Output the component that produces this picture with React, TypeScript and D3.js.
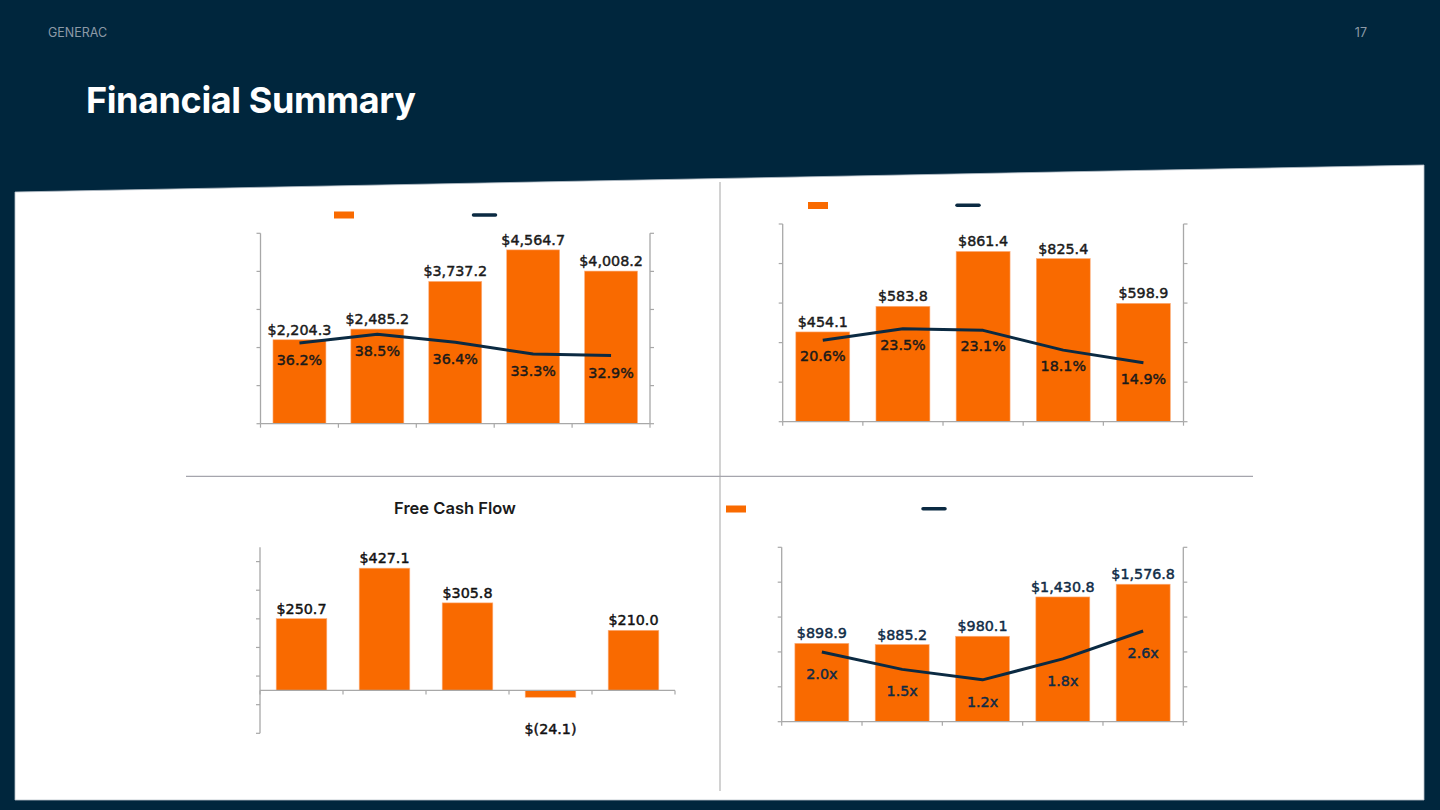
import React from "react";
import * as d3 from "d3";

const years = ["2019", "2020", "2021", "2022", "2023"];
const netSales = [2204.3, 2485.2, 3737.2, 4564.7, 4008.2];
const grossMargin = [36.2, 38.5, 36.4, 33.3, 32.9];
const adjEbitda = [454.1, 583.8, 861.4, 825.4, 598.9];
const ebitdaMargin = [20.6, 23.5, 23.1, 18.1, 14.9];
const freeCashFlow = [250.7, 427.1, 305.8, -24.1, 210.0];
const netDebt = [898.9, 885.2, 980.1, 1430.8, 1576.8];
const leverage = [2.0, 1.5, 1.2, 1.8, 2.6];

const salesTicks = [0, 1000, 2000, 3000, 4000, 5000];
const grossMarginTicks = [15, 25, 35, 45, 55, 65];
const ebitdaTicks = [0, 200, 400, 600, 800, 1000];
const ebitdaMarginTicks = [0, 10, 20, 30, 40, 50];
const fcfTicks = [-150, -50, 50, 150, 250, 350, 450];
const netDebtTicks = [0, 400, 800, 1200, 1600, 2000];
const leverageTicks = [0, 1, 2, 3, 4, 5];

const NAVY_BG = "#00263d";
const ORANGE = "#f96a00";
const LINE_NAVY = "#0b2a42";
const AXIS = "#a8a8a8";
const LABEL_FONT = "'DejaVu Sans', sans-serif";

const num = d3.format(",.1f");
const money = (v: number) => (v < 0 ? `$(${num(Math.abs(v))})` : `$${num(v)}`);
const pct = (v: number) => `${d3.format(".1f")(v)}%`;
const times = (v: number) => `${d3.format(".1f")(v)}x`;

type ChartProps = {
  left: number; right: number; top: number; bottom: number;
  values: number[]; yDomain: [number, number]; yTicks: number[];
  line?: number[]; lineDomain?: [number, number]; lineTicks?: number[];
  lineFmt?: (v: number) => string; lineDy?: number;
  pad: number; valueColor: string; lineLabelColor?: string;
  legend?: { rx: number; ry: number; lx: number; ly: number };
  negDy?: number;
};

function Label(props: { x: number; y: number; color: string; central?: boolean; children: React.ReactNode }) {
  return (
    <text x={props.x} y={props.y} textAnchor="middle" dominantBaseline={props.central ? "central" : undefined}
      fontFamily={LABEL_FONT} fontSize={14.3} fill={props.color} stroke={props.color} strokeWidth={0.45}>
      {props.children}
    </text>
  );
}

function BarLineChart(p: ChartProps) {
  const x = d3.scaleBand<string>().domain(years).range([p.left, p.right])
    .paddingInner(p.pad).paddingOuter(p.pad / 2);
  const y = d3.scaleLinear().domain(p.yDomain).range([p.bottom, p.top]);
  const bw = x.bandwidth();
  const step = x.step();
  const zeroY = y(0);
  const y2 = p.lineDomain ? d3.scaleLinear().domain(p.lineDomain).range([p.bottom, p.top]) : null;
  const cx = (i: number) => (x(years[i]) as number) + bw / 2;
  const lineGen = d3.line<number>().x((_, i) => cx(i)).y((d) => (y2 ? y2(d) : 0));
  const boundaries = d3.range(years.length + 1).map((i) => p.left + i * step);
  return (
    <g>
      {p.legend && (
        <g>
          <rect x={p.legend.rx} y={p.legend.ry} width={20} height={7} fill={ORANGE} />
          <line x1={p.legend.lx} x2={p.legend.lx + 22} y1={p.legend.ly} y2={p.legend.ly}
            stroke={LINE_NAVY} strokeWidth={3.5} strokeLinecap="round" />
        </g>
      )}
      <line x1={p.left} x2={p.left} y1={y(p.yDomain[1])} y2={y(p.yDomain[0])} stroke={AXIS} strokeWidth={1.3} />
      {p.yTicks.map((t) => (
        <line key={"lt" + t} x1={p.left - 4} x2={p.left} y1={y(t)} y2={y(t)} stroke={AXIS} strokeWidth={1.2} />
      ))}
      {y2 && p.lineTicks && (
        <g>
          <line x1={p.right} x2={p.right} y1={p.top} y2={p.bottom} stroke={AXIS} strokeWidth={1.3} />
          {p.lineTicks.map((t) => (
            <line key={"rt" + t} x1={p.right} x2={p.right + 4} y1={y2(t)} y2={y2(t)} stroke={AXIS} strokeWidth={1.2} />
          ))}
        </g>
      )}
      {p.values.map((v, i) => (
        <rect key={"b" + i} x={x(years[i])} y={Math.min(y(v), zeroY)} width={bw}
          height={Math.abs(y(v) - zeroY)} fill={ORANGE} stroke="#fcb283" strokeWidth={0.6} />
      ))}
      <line x1={p.left} x2={p.right} y1={zeroY} y2={zeroY} stroke={AXIS} strokeWidth={1.3} />
      {boundaries.map((bx, i) => (
        <line key={"bt" + i} x1={bx} x2={bx} y1={zeroY} y2={zeroY + 4} stroke={AXIS} strokeWidth={1.2} />
      ))}
      {p.values.map((v, i) => (
        <Label key={"vl" + i} x={cx(i)} y={v >= 0 ? y(v) - 5 : y(v) + (p.negDy ?? 16)} color={p.valueColor}>
          {money(v)}
        </Label>
      ))}
      {p.line && y2 && (
        <g>
          <path d={lineGen(p.line) || ""} fill="none" stroke={LINE_NAVY} strokeWidth={3} strokeLinejoin="round" />
          {p.line.map((v, i) => (
            <Label key={"ll" + i} x={cx(i)} y={y2(v) + (p.lineDy ?? 17)} central color={p.lineLabelColor || "#1a1a1a"}>
              {p.lineFmt ? p.lineFmt(v) : v}
            </Label>
          ))}
        </g>
      )}
    </g>
  );
}

export default function App() {
  return (
    <div style={{ position: "absolute", left: 0, top: 0, width: 1440, height: 810 }}>
      <svg width={1440} height={810} viewBox="0 0 1440 810" style={{ display: "block" }}>
        <rect x={0} y={0} width={1440} height={810} fill={NAVY_BG} />
        <polygon points="15,192 1424,165 1424,800 15,800" fill="#ffffff" stroke="#b9c2ca" strokeWidth={0.8} />
        <text x={48} y={36.5} fontFamily="Inter, sans-serif" fontSize={12.5} fill="#8d9aa7">GENERAC</text>
        <text x={1367} y={36.5} textAnchor="end" fontFamily="Inter, sans-serif" fontSize={12.5} fill="#8d9aa7">17</text>
        <text x={86} y={113} fontFamily="Inter, sans-serif" fontWeight={700} fontSize={36} fill="#ffffff" letterSpacing={-0.4}>
          Financial Summary
        </text>
        <line x1={720} x2={720} y1={182} y2={791} stroke="#d2d2d2" strokeWidth={2} />
        <line x1={186} x2={1253} y1={476.3} y2={476.3} stroke="#a5a5ad" strokeWidth={1.2} />

        <BarLineChart left={260.5} right={650} top={233.3} bottom={423.7}
          values={netSales} yDomain={[0, 5000]} yTicks={salesTicks}
          line={grossMargin} lineDomain={[15, 65]} lineTicks={grossMarginTicks} lineFmt={pct} lineDy={17}
          pad={0.32} valueColor="#1a1a1a"
          legend={{ rx: 334, ry: 211.5, lx: 473.5, ly: 215 }} />

        <BarLineChart left={782.7} right={1183.5} top={224} bottom={421.7}
          values={adjEbitda} yDomain={[0, 1000]} yTicks={ebitdaTicks}
          line={ebitdaMargin} lineDomain={[0, 50]} lineTicks={ebitdaMarginTicks} lineFmt={pct} lineDy={16}
          pad={0.327} valueColor="#1a1a1a"
          legend={{ rx: 808, ry: 202, lx: 957, ly: 205.3 }} />

        <text x={455} y={514} textAnchor="middle" fontFamily="Inter, sans-serif" fontWeight={600} fontSize={16.5} fill="#1a1a1a">
          Free Cash Flow
        </text>
        <BarLineChart left={260} right={675} top={547.3} bottom={733.3}
          values={freeCashFlow} yDomain={[-150, 500]} yTicks={fcfTicks}
          pad={0.39} valueColor="#111111" negDy={37} />

        <BarLineChart left={781.7} right={1183.3} top={547.3} bottom={721.7}
          values={netDebt} yDomain={[0, 2000]} yTicks={netDebtTicks}
          line={leverage} lineDomain={[0, 5]} lineTicks={leverageTicks} lineFmt={times} lineDy={22}
          pad={0.328} valueColor="#0f2b46" lineLabelColor="#0f2b46"
          legend={{ rx: 726, ry: 505.5, lx: 923, ly: 508.7 }} />
      </svg>
    </div>
  );
}
